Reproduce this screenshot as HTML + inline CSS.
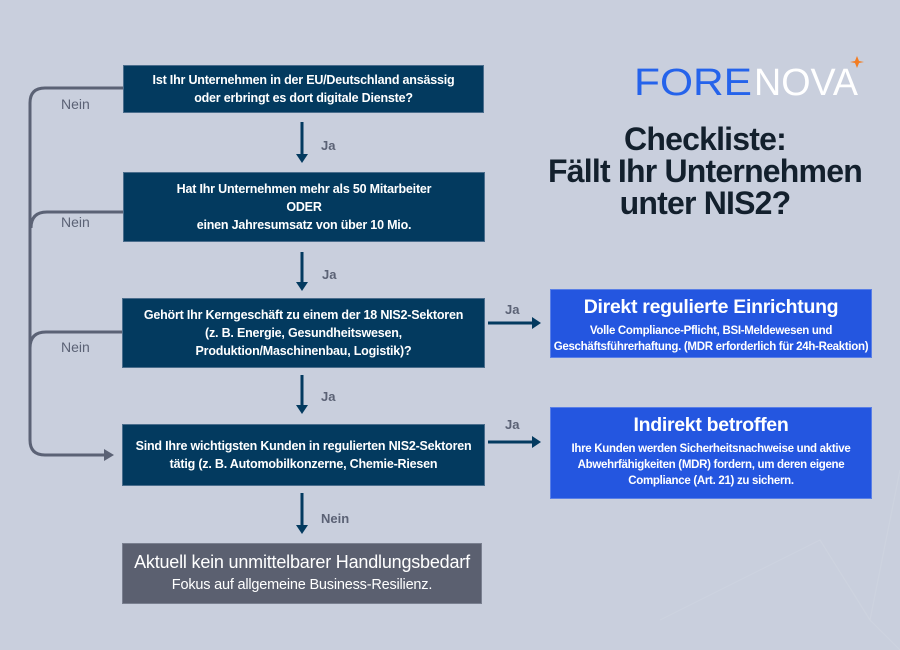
<!DOCTYPE html>
<html><head><meta charset="utf-8"><style>
body{margin:0;width:900px;height:650px;background:#c9cfdd;position:relative;overflow:hidden;font-family:"Liberation Sans",sans-serif}
.b{position:absolute;background:#033a5f;color:#fff;font-weight:bold;font-size:12.5px;line-height:18px;text-align:center;display:flex;flex-direction:column;justify-content:center;letter-spacing:-0.2px;border:1px solid #4a6d8c;box-sizing:border-box;white-space:nowrap}
.r{position:absolute;background:#2456e0;color:#fff;text-align:center;font-weight:bold;border:1px solid #5a7fe6;box-sizing:border-box;white-space:nowrap}
.r h{display:block;font-size:19.5px;margin-top:6px;letter-spacing:-0.3px}
.r p{margin:4px 0 0;font-size:11.5px;line-height:16px;letter-spacing:-0.3px}
.l{position:absolute;font-size:14px;color:#5b6275}
.j{position:absolute;font-size:13px;color:#5b6275;font-weight:bold}
</style></head><body>
<svg width="900" height="650" style="position:absolute;left:0;top:0">
<g stroke="#d0d5e1" stroke-width="1.2" fill="none" opacity="0.6"><path d="M900 470 L870 620 L820 540 L660 620 M870 620 L900 650"/></g>
<g stroke="#5b6275" stroke-width="3" fill="none">
<path d="M123 88 H45 Q30 88 30 103 V440 Q30 455 45 455 H105"/>
<path d="M123 212 H47 Q31 212 31 228"/>
<path d="M123 332 H46 Q30 332 30 348"/>
</g>
<path d="M104 449 L114 455 L104 461 Z" fill="#5b6275"/>
<g stroke="#033a5f" stroke-width="3" fill="none">
<path d="M302 122 V155"/><path d="M302 252 V283"/><path d="M302 375 V406"/><path d="M302 493 V526"/>
<path d="M488 323 H533"/><path d="M488 442 H533"/>
</g>
<g fill="#033a5f">
<path d="M296 154 L308 154 L302 163 Z"/><path d="M296 282 L308 282 L302 291 Z"/><path d="M296 405 L308 405 L302 414 Z"/><path d="M296 525 L308 525 L302 534 Z"/>
<path d="M532 317 L541 323 L532 329 Z"/><path d="M532 436 L541 442 L532 448 Z"/>
</g>
<text x="634" y="95" font-family="Liberation Sans" font-size="38" fill="#2563eb" textLength="118" lengthAdjust="spacingAndGlyphs">FORE</text>
<text x="754" y="95" font-family="Liberation Sans" font-size="38" fill="#fff" textLength="104" lengthAdjust="spacingAndGlyphs">NOVA</text>
<path d="M857 56 L859 61 L864 62 L859 63 L857 68 L855 63 L850 62 L855 61 Z" fill="#f37c21"/>
</svg>
<div style="position:absolute;left:505px;top:123px;width:400px;text-align:center;font-weight:bold;font-size:32px;line-height:32px;color:#13202d;letter-spacing:-0.8px;white-space:nowrap">Checkliste:<br>Fällt Ihr Unternehmen<br>unter NIS2?</div>
<div class="b" style="left:123px;top:65px;width:361px;height:48px">Ist Ihr Unternehmen in der EU/Deutschland ansässig<br>oder erbringt es dort digitale Dienste?</div>
<div class="b" style="left:123px;top:172px;width:362px;height:70px">Hat Ihr Unternehmen mehr als 50 Mitarbeiter<br>ODER<br>einen Jahresumsatz von über 10 Mio.</div>
<div class="b" style="left:122px;top:298px;width:363px;height:70px">Gehört Ihr Kerngeschäft zu einem der 18 NIS2-Sektoren<br>(z. B. Energie, Gesundheitswesen,<br>Produktion/Maschinenbau, Logistik)?</div>
<div class="b" style="left:122px;top:424px;width:363px;height:62px">Sind Ihre wichtigsten Kunden in regulierten NIS2-Sektoren<br>tätig (z. B. Automobilkonzerne, Chemie-Riesen</div>
<div class="b" style="left:122px;top:543px;width:360px;height:61px;background:#5b6070;border-color:#7a8090;font-weight:normal;font-size:18px;line-height:23px;letter-spacing:-0.2px">Aktuell kein unmittelbarer Handlungsbedarf<br><span style="font-size:14.5px">Fokus auf allgemeine Business-Resilienz.</span></div>
<div class="r" style="left:550px;top:289px;width:322px;height:69px"><h>Direkt regulierte Einrichtung</h><p>Volle Compliance-Pflicht, BSI-Meldewesen und<br>Geschäftsführerhaftung. (MDR erforderlich für 24h-Reaktion)</p></div>
<div class="r" style="left:550px;top:407px;width:322px;height:92px"><h>Indirekt betroffen</h><p>Ihre Kunden werden Sicherheitsnachweise und aktive<br>Abwehrfähigkeiten (MDR) fordern, um deren eigene<br>Compliance (Art. 21) zu sichern.</p></div>
<div class="l" style="left:61px;top:96px">Nein</div>
<div class="l" style="left:61px;top:214px">Nein</div>
<div class="l" style="left:61px;top:339px">Nein</div>
<div class="j" style="left:321px;top:138px">Ja</div>
<div class="j" style="left:322px;top:267px">Ja</div>
<div class="j" style="left:321px;top:389px">Ja</div>
<div class="j" style="left:321px;top:511px">Nein</div>
<div class="j" style="left:505px;top:302px">Ja</div>
<div class="j" style="left:505px;top:417px">Ja</div>
</body></html>
